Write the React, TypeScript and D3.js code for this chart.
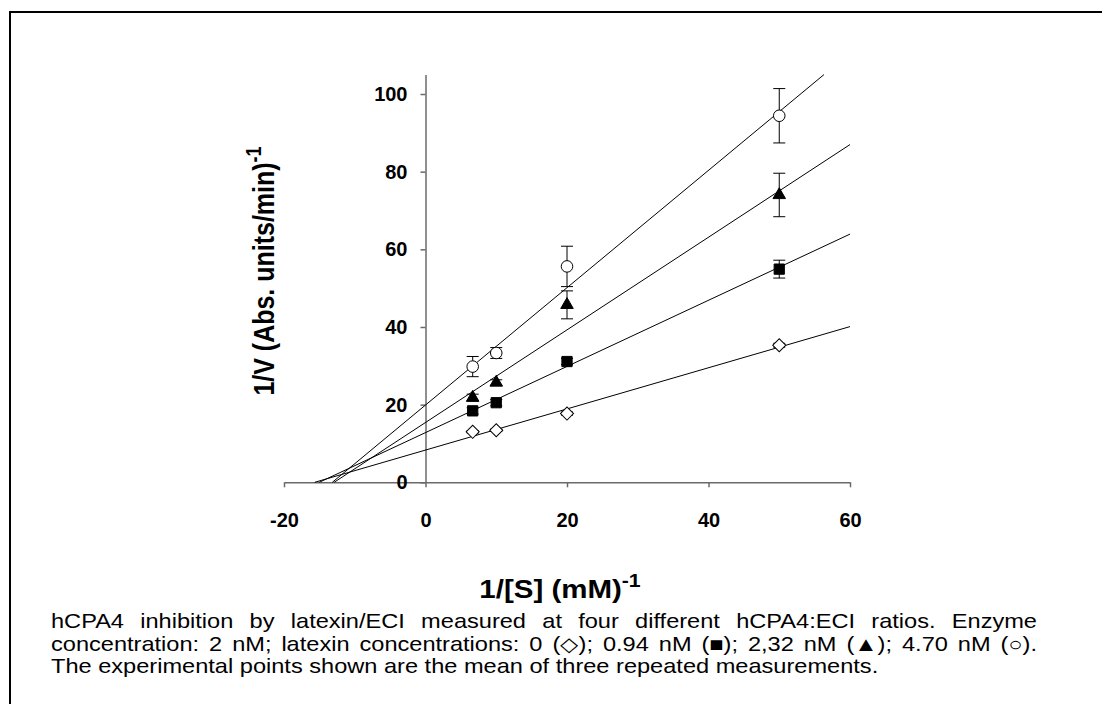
import React, { useEffect, useRef } from "react";
import * as d3 from "d3";

// 1/[S] values (mM^-1)
const xValues = [6.67, 10, 20, 50];

// 1/V means and errors per latexin concentration
const diamondY = [13.0, 13.4, 17.7, 35.3];
const diamondErr = [0.3, 0.3, 0.4, 0.5];
const squareY = [18.4, 20.5, 31.1, 54.9];
const squareErr = [0.8, 0.8, 0.8, 2.3];
const triangleY = [21.8, 25.7, 45.7, 74.0];
const triangleErr = [0.9, 0.7, 3.6, 5.6];
const circleY = [29.8, 33.3, 55.6, 94.4];
const circleErr = [2.6, 1.4, 5.2, 7.0];

// fitted Lineweaver-Burk lines (intercept, slope)
const fitIntercepts = [8.3, 12.8, 15.4, 19.9];
const fitSlopes = [0.53, 0.852, 1.193, 1.511];

const xTicks = [-20, 0, 20, 40, 60];
const yTicks = [0, 20, 40, 60, 80, 100];

const captionLines = [
  "hCPA4 inhibition by latexin/ECI measured at four different hCPA4:ECI ratios. Enzyme",
  "concentration: 2 nM; latexin concentrations: 0 (\u25C7); 0.94 nM (\u25A0); 2,32 nM (\u25B2); 4.70 nM (\u25CB).",
  "The experimental points shown are the mean of three repeated measurements.",
];

const FONT = "Arial, 'Liberation Sans', Helvetica, sans-serif";
// the original picture is a little stretched sideways
const STRETCH = 1.18;

export default function App() {
  const ref = useRef<SVGSVGElement>(null);

  useEffect(() => {
    const svg = d3.select(ref.current);
    svg.selectAll("*").remove();

    // frame
    svg
      .append("rect")
      .attr("x", 10)
      .attr("y", 12)
      .attr("width", 1200)
      .attr("height", 800)
      .attr("fill", "none")
      .attr("stroke", "#000")
      .attr("stroke-width", 2);

    const x = d3.scaleLinear().domain([-20, 60]).range([284, 850]);
    const y = d3.scaleLinear().domain([0, 105]).range([482.3, 74.6]);

    // axes
    const xAxis = d3
      .axisBottom(x)
      .tickValues(xTicks)
      .tickFormat((d) => String(d))
      .tickSize(5)
      .tickSizeOuter(0)
      .tickPadding(26);
    const yAxis = d3
      .axisLeft(y)
      .tickValues(yTicks)
      .tickFormat((d) => String(d))
      .tickSize(5)
      .tickSizeOuter(0)
      .tickPadding(13);

    const gx = svg
      .append("g")
      .attr("transform", "translate(0," + y(0) + ")")
      .call(xAxis);
    const gy = svg
      .append("g")
      .attr("transform", "translate(" + x(0) + ",0)")
      .call(yAxis);

    [gx, gy].forEach((g) => {
      g.select(".domain").attr("stroke", "#6a6a6a").attr("stroke-width", 1.5);
      g.selectAll(".tick line").attr("stroke", "#6a6a6a").attr("stroke-width", 1.5);
      g.selectAll(".tick text")
        .attr("fill", "#000")
        .style("font-family", FONT)
        .style("font-size", "20px")
        .style("font-weight", "bold");
    });

    // fitted lines, from x-intercept to x=60 (clipped at top of axis)
    fitIntercepts.forEach((b, i) => {
      const m = fitSlopes[i];
      const x0 = -b / m;
      const x1 = Math.min(60, (105 - b) / m);
      const line = d3
        .line<number>()
        .x((d) => x(d))
        .y((d) => y(b + m * d));
      svg
        .append("path")
        .datum([x0, x1])
        .attr("d", line)
        .attr("fill", "none")
        .attr("stroke", "#000")
        .attr("stroke-width", 1);
    });

    const series = [
      { ys: diamondY, errs: diamondErr, type: d3.symbolSquare, size: 85, rotate: 45, fill: "#fff" },
      { ys: squareY, errs: squareErr, type: d3.symbolSquare, size: 105, rotate: 0, fill: "#000" },
      { ys: triangleY, errs: triangleErr, type: d3.symbolTriangle, size: 68, rotate: 0, fill: "#000" },
      { ys: circleY, errs: circleErr, type: d3.symbolCircle, size: 105, rotate: 0, fill: "#fff" },
    ];

    series.forEach((s) => {
      const g = svg.append("g");
      // error bars
      s.ys.forEach((v, j) => {
        const cx = x(xValues[j]);
        const top = y(v + s.errs[j]);
        const bot = y(v - s.errs[j]);
        g.append("line")
          .attr("x1", cx).attr("x2", cx)
          .attr("y1", top).attr("y2", bot)
          .attr("stroke", "#000").attr("stroke-width", 1);
        [top, bot].forEach((cy) => {
          g.append("line")
            .attr("x1", cx - 6).attr("x2", cx + 6)
            .attr("y1", cy).attr("y2", cy)
            .attr("stroke", "#000").attr("stroke-width", 1);
        });
      });
      // markers
      g.selectAll("path.pt")
        .data(s.ys)
        .enter()
        .append("path")
        .attr("class", "pt")
        .attr("d", d3.symbol().type(s.type).size(s.size)())
        .attr("transform", (v, j) =>
          "translate(" + x(xValues[j]) + "," + y(v) + ") rotate(" + s.rotate + ")"
        )
        .attr("fill", s.fill)
        .attr("stroke", "#000")
        .attr("stroke-width", 1);
    });

    // axis titles
    const yt = svg
      .append("text")
      .attr("transform", "translate(274,271) rotate(-90) scale(1," + STRETCH + ")")
      .attr("text-anchor", "middle")
      .style("font-family", FONT)
      .style("font-size", "25px")
      .style("font-weight", "bold");
    yt.append("tspan").text("1/V (Abs. units/min)");
    yt.append("tspan").attr("dy", -11).style("font-size", "18px").text("-1");

    const xt = svg
      .append("text")
      .attr("transform", "translate(560,598) scale(" + STRETCH + ",1)")
      .attr("text-anchor", "middle")
      .style("font-family", FONT)
      .style("font-size", "25px")
      .style("font-weight", "bold");
    xt.append("tspan").text("1/[S] (mM)");
    xt.append("tspan").attr("dy", -11).style("font-size", "18px").text("-1");

    // caption, first two lines justified
    const left = 51;
    const right = 1037;
    const cap = svg
      .append("g")
      .attr("transform", "translate(" + left + ",0) scale(" + STRETCH + ",1)");
    const span = (right - left) / STRETCH;
    captionLines.forEach((txt, i) => {
      const t = cap
        .append("text")
        .attr("x", 0)
        .attr("y", 628 + i * 22.6)
        .style("font-family", FONT)
        .style("font-size", "20px")
        .attr("fill", "#000")
        .text(txt);
      if (i < 2) {
        const node = t.node() as SVGTextElement;
        const w = node.getComputedTextLength();
        const gaps = txt.split(" ").length - 1;
        t.style("word-spacing", (span - w) / gaps + "px");
      }
    });
  }, []);

  return (
    <svg
      ref={ref}
      width={1102}
      height={704}
      style={{ position: "absolute", left: 0, top: 0, background: "#fff" }}
    />
  );
}
